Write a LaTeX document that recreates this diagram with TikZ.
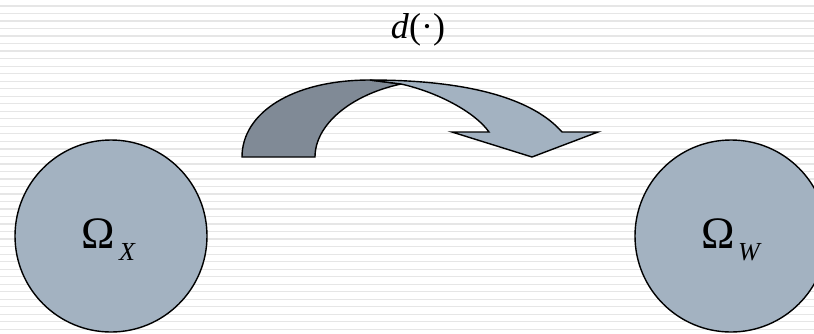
\documentclass[tikz,border=0pt]{standalone}
\usepackage{fontspec}
\setmainfont{Liberation Serif}
\definecolor{bluegray}{RGB}{163,178,193}
\definecolor{darkgray}{RGB}{128,138,150}
\definecolor{stripe}{RGB}{230,230,230}
\begin{document}
\begin{tikzpicture}[x=1pt,y=-1pt,
  blob/.style={circle,draw=black,line width=1.4pt,fill=bluegray,minimum size=192pt,inner sep=0pt},
  bandline/.style={draw=black,line width=1.4pt,line join=miter},
  lbl/.style={anchor=base west,inner sep=0pt}]
\useasboundingbox (0,0) rectangle (814,333);
\fill[white] (0,0) rectangle (814,333);
\foreach \k in {0,...,44} {
  \draw[stripe,line width=1.3pt] (0,{6+7.52*\k}) -- (814,{6+7.52*\k});
}
\begin{scope}
\clip (0,0) rectangle (814,333);
\node[blob] (omegaX) at (111,236) {};
\node[blob] (omegaW) at (731,236) {};
\end{scope}
\node[lbl,font=\fontsize{45}{45}\selectfont] (omX) at (81,248) {Ω};
\node[lbl,font=\fontsize{26}{26}\selectfont\itshape] (subX) at (119,260) {X};
\node[lbl,font=\fontsize{45}{45}\selectfont] (omW) at (701,248) {Ω};
\node[lbl,font=\fontsize{26}{26}\selectfont\itshape] (subW) at (738,260) {W};
% curved arrow: dark back part
\path[bandline,fill=darkgray] (242,157) .. controls (242,113) and (292,80) .. (370,80)
  -- (401,84) .. controls (350,95) and (315,125) .. (315,157) -- cycle;
% light front part with arrowhead
\path[bandline,fill=bluegray] (370,80) .. controls (472,80) and (534,100) .. (562,132)
  -- (598,132) -- (532,157) -- (452,132) -- (489,132)
  .. controls (475,112) and (437,92) .. (401,84) -- cycle;
\node[anchor=base,inner sep=0pt,font=\fontsize{36}{36}\selectfont] (dlabel) at (418,38) {\itshape d\/\upshape(·)};
\end{tikzpicture}
\end{document}
